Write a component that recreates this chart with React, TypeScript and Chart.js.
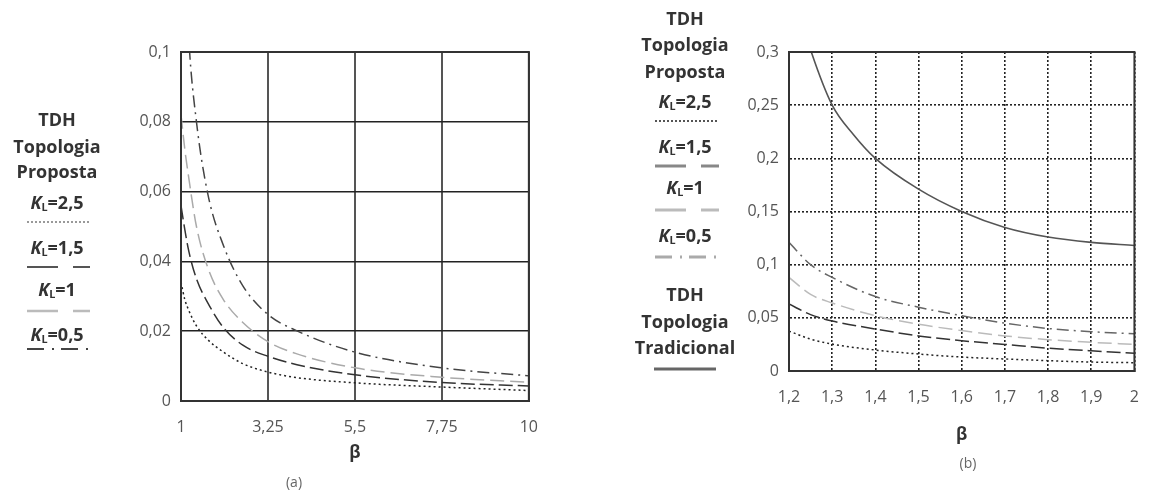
import React, { useEffect, useRef } from "react";
import { Chart, registerables } from "chart.js";
Chart.register(...registerables);

// ---------- Panel (a) data ----------
const betaA = [1, 1.1, 1.2, 1.4, 1.7, 2.1, 2.6, 3.25, 4, 5.5, 7.75, 10];
const a_KL25 = [0.034, 0.029, 0.026, 0.0215, 0.0175, 0.014, 0.0107, 0.0083, 0.0067, 0.0052, 0.004, 0.003];
const a_KL15 = [0.056, 0.049, 0.043, 0.035, 0.028, 0.021, 0.016, 0.0128, 0.0104, 0.0075, 0.0053, 0.0043];
const a_KL1 = [0.082, 0.072, 0.064, 0.05, 0.038, 0.029, 0.0225, 0.017, 0.0135, 0.0095, 0.0068, 0.0054];
const a_KL05 = [0.17, 0.13, 0.104, 0.08, 0.059, 0.0445, 0.033, 0.0248, 0.0201, 0.014, 0.0095, 0.0072];
const xTicksA = [1, 3.25, 5.5, 7.75, 10];
const yTicksA = [0, 0.02, 0.04, 0.06, 0.08, 0.1];

// ---------- Panel (b) data ----------
const betaTrad = [1.2, 1.25, 1.3, 1.35, 1.4, 1.5, 1.6, 1.7, 1.8, 1.9, 2.0];
const b_trad = [0.37, 0.302, 0.25, 0.222, 0.2, 0.171, 0.15, 0.135, 0.126, 0.121, 0.118];
const betaB = [1.2, 1.25, 1.3, 1.4, 1.5, 1.6, 1.7, 1.8, 1.9, 2.0];
const b_KL05 = [0.121, 0.1, 0.088, 0.07, 0.06, 0.052, 0.045, 0.04, 0.037, 0.035];
const b_KL1 = [0.088, 0.072, 0.064, 0.052, 0.044, 0.038, 0.033, 0.0295, 0.027, 0.025];
const b_KL15 = [0.063, 0.053, 0.047, 0.0395, 0.033, 0.0285, 0.025, 0.0215, 0.019, 0.0168];
const b_KL25 = [0.0375, 0.03, 0.0253, 0.0197, 0.016, 0.0131, 0.0113, 0.0097, 0.0084, 0.0078];
const xTicksB = [1.2, 1.3, 1.4, 1.5, 1.6, 1.7, 1.8, 1.9, 2];
const yTicksB = [0, 0.05, 0.1, 0.15, 0.2, 0.25, 0.3];

const FONT = "'Open Sans', 'Noto Sans', sans-serif";

const pts = (xs: number[], ys: number[]) => xs.map((x, i) => ({ x, y: ys[i] }));
const fmt = (v: number) => String(Number(v.toFixed(4))).replace(".", ",");

const frame = {
  id: "frame",
  afterDraw(chart: any) {
    const { ctx, chartArea: a } = chart;
    ctx.save();
    ctx.strokeStyle = "#333";
    ctx.lineWidth = 2;
    ctx.setLineDash([]);
    ctx.strokeRect(a.left, a.top, a.right - a.left, a.bottom - a.top);
    ctx.restore();
  },
};

function ds(label: string, data: any[], color: string, dash: number[], width = 1.5) {
  return {
    label,
    data,
    borderColor: color,
    borderDash: dash,
    borderWidth: width,
    pointRadius: 0,
    fill: false,
    cubicInterpolationMode: "monotone" as const,
  };
}

function makeOptions(
  xmin: number, xmax: number, xt: number[],
  ymin: number, ymax: number, yt: number[],
  yWidth: number, xHeight: number, padRight: number, titlePadBottom: number,
  dotted: boolean
) {
  const gridX = dotted
    ? { color: "#222", lineWidth: 1.6, drawTicks: false }
    : { color: "#555", lineWidth: 2, drawTicks: false };
  const gridY = dotted
    ? { color: "#222", lineWidth: 1.6, drawTicks: false }
    : { color: "#222", lineWidth: 1.6, drawTicks: false };
  const dash = dotted ? { dash: [2, 2] } : {};
  return {
    animation: false as const,
    responsive: false,
    maintainAspectRatio: false,
    layout: { padding: { top: 22, right: padRight, left: 0, bottom: 0 } },
    plugins: { legend: { display: false }, tooltip: { enabled: false } },
    scales: {
      x: {
        type: "linear" as const,
        min: xmin,
        max: xmax,
        afterBuildTicks: (s: any) => { s.ticks = xt.map((v) => ({ value: v })); },
        afterFit: (s: any) => { s.height = xHeight; },
        ticks: { padding: 17, color: "#555", font: { family: FONT, size: 16 }, callback: (v: any) => fmt(Number(v)), maxRotation: 0, autoSkip: false },
        grid: gridX,
        border: { display: true, color: "#333", width: 2, ...dash },
        title: { display: true, text: "β", color: "#333", font: { family: FONT, size: 17, weight: "bold" as const }, padding: { top: 0, bottom: titlePadBottom } },
      },
      y: {
        type: "linear" as const,
        min: ymin,
        max: ymax,
        afterBuildTicks: (s: any) => { s.ticks = yt.map((v) => ({ value: v })); },
        afterFit: (s: any) => { s.width = yWidth; },
        ticks: { padding: 10, color: "#555", font: { family: FONT, size: 16 }, callback: (v: any) => fmt(Number(v)) },
        grid: gridY,
        border: { display: true, color: "#333", width: 2, ...dash },
      },
    },
  };
}

function PanelA() {
  const ref = useRef<HTMLCanvasElement>(null);
  useEffect(() => {
    const opts: any = makeOptions(1, 10, xTicksA, 0, 0.1, yTicksA, 81, 90, 18, 28, false);
    const chart = new Chart(ref.current!, {
      type: "line",
      data: {
        datasets: [
          ds("KL=2,5", pts(betaA, a_KL25), "#222", [2, 3]),
          ds("KL=1,5", pts(betaA, a_KL15), "#333", [14, 5]),
          ds("KL=1", pts(betaA, a_KL1), "#aaa", [14, 6]),
          ds("KL=0,5", pts(betaA, a_KL05), "#444", [12, 5, 2, 5]),
        ],
      },
      options: opts,
      plugins: [frame],
    });
    return () => chart.destroy();
  }, []);
  return <canvas ref={ref} width={455} height={461} style={{ position: "absolute", left: 100, top: 30, width: 455, height: 461 }} />;
}

function PanelB() {
  const ref = useRef<HTMLCanvasElement>(null);
  useEffect(() => {
    const opts: any = makeOptions(1.2, 2, xTicksB, 0, 0.3, yTicksB, 69, 120, 9, 46, true);
    const chart = new Chart(ref.current!, {
      type: "line",
      data: {
        datasets: [
          ds("Tradicional", pts(betaTrad, b_trad), "#555", [], 1.6),
          ds("KL=0,5", pts(betaB, b_KL05), "#666", [12, 5, 2, 5]),
          ds("KL=1", pts(betaB, b_KL1), "#bbb", [14, 6]),
          ds("KL=1,5", pts(betaB, b_KL15), "#333", [14, 5]),
          ds("KL=2,5", pts(betaB, b_KL25), "#222", [2, 3]),
        ],
      },
      options: opts,
      plugins: [frame],
    });
    return () => chart.destroy();
  }, []);
  return <canvas ref={ref} width={436} height={461} style={{ position: "absolute", left: 720, top: 30, width: 436, height: 461 }} />;
}

function Txt({ cx, cy, children, size = 18, bold = true, color = "#333" }: any) {
  return (
    <div style={{ position: "absolute", left: cx - 100, width: 200, top: cy - size * 0.7, height: size * 1.4, lineHeight: `${size * 1.4}px`, textAlign: "center", fontFamily: FONT, fontSize: size, fontWeight: bold ? 700 : 400, color, whiteSpace: "nowrap" }}>
      {children}
    </div>
  );
}

function KL({ v }: { v: string }) {
  return (
    <span>
      <i>K</i>
      <span style={{ fontSize: "0.6em", verticalAlign: "-0.2em" }}>L</span>={v}
    </span>
  );
}

function Sample({ x1, x2, y, color, dash, width = 2 }: any) {
  return (
    <svg style={{ position: "absolute", left: x1, top: y - 3, width: x2 - x1, height: 6 }} width={x2 - x1} height={6}>
      <line x1={0} y1={3} x2={x2 - x1} y2={3} stroke={color} strokeWidth={width} strokeDasharray={dash} />
    </svg>
  );
}

export default function App() {
  return (
    <div style={{ position: "absolute", left: 0, top: 0, width: 1156, height: 491, background: "#fff", overflow: "hidden" }}>
      <PanelA />
      <PanelB />
      {/* Legend (a) */}
      <Txt cx={57} cy={120}>TDH</Txt>
      <Txt cx={57} cy={147}>Topologia</Txt>
      <Txt cx={57} cy={172}>Proposta</Txt>
      <Txt cx={57} cy={203}><KL v="2,5" /></Txt>
      <Sample x1={27} x2={89} y={222} color="#999" dash="2 2" width={2} />
      <Txt cx={57} cy={248}><KL v="1,5" /></Txt>
      <Sample x1={27} x2={90} y={267} color="#555" dash="31 15" width={2} />
      <Txt cx={57} cy={290}><KL v="1" /></Txt>
      <Sample x1={27} x2={90} y={311} color="#bbb" dash="31 15" width={2.5} />
      <Txt cx={57} cy={335}><KL v="0,5" /></Txt>
      <Sample x1={27} x2={90} y={349} color="#444" dash="17 8 2 7" width={2} />
      <Txt cx={294} cy={482} size={14} bold={false} color="#666">(a)</Txt>

      {/* Legend (b) */}
      <Txt cx={685} cy={19}>TDH</Txt>
      <Txt cx={685} cy={45}>Topologia</Txt>
      <Txt cx={685} cy={72}>Proposta</Txt>
      <Txt cx={685} cy={102}><KL v="2,5" /></Txt>
      <Sample x1={655} x2={717} y={121} color="#555" dash="2 2" width={2} />
      <Txt cx={685} cy={147}><KL v="1,5" /></Txt>
      <Sample x1={655} x2={719} y={166} color="#888" dash="31 15" width={3} />
      <Txt cx={685} cy={188}><KL v="1" /></Txt>
      <Sample x1={655} x2={719} y={210} color="#bbb" dash="31 15" width={3} />
      <Txt cx={685} cy={236}><KL v="0,5" /></Txt>
      <Sample x1={655} x2={719} y={257} color="#aaa" dash="17 8 2 7" width={3} />
      <Txt cx={685} cy={295}>TDH</Txt>
      <Txt cx={685} cy={322}>Topologia</Txt>
      <Txt cx={685} cy={348}>Tradicional</Txt>
      <Sample x1={654} x2={716} y={369} color="#666" dash="" width={3} />
      <Txt cx={968} cy={463} size={14} bold={false} color="#666">(b)</Txt>
    </div>
  );
}
